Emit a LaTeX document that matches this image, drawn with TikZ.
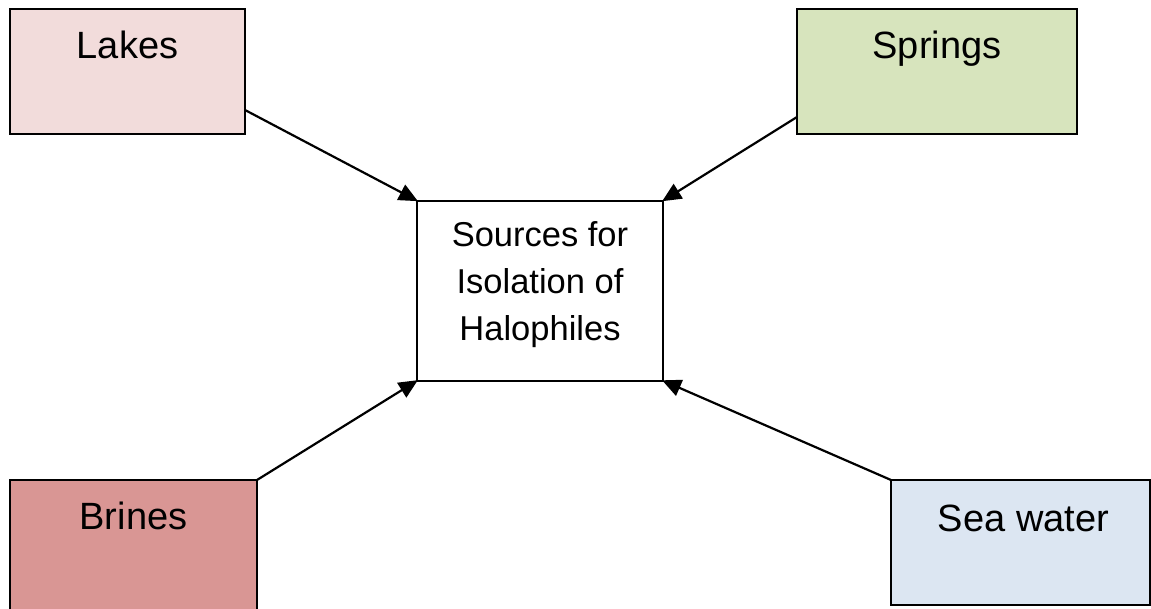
\documentclass[tikz,border=0pt]{standalone}
\usepackage{fontspec}
\setmainfont{Liberation Sans}
\usetikzlibrary{arrows.meta}
\definecolor{lakesfill}{HTML}{F2DCDB}
\definecolor{springsfill}{HTML}{D7E4BD}
\definecolor{brinesfill}{HTML}{D99694}
\definecolor{seafill}{HTML}{DCE6F2}
\begin{document}
\begin{tikzpicture}[x=1pt,y=1pt,
  srcbox/.style={draw=black, line width=2.2pt, rectangle, inner sep=0pt, outer sep=0pt, anchor=north west},
  srclabel/.style={anchor=base, inner sep=0pt, font=\fontsize{38}{46}\selectfont},
  hubbox/.style={draw=black, line width=2.2pt, rectangle, fill=white, inner sep=0pt, outer sep=0pt, anchor=north west,
    minimum width=246pt, minimum height=180pt},
  hublabel/.style={anchor=north, align=center, inner sep=0pt, font=\fontsize{34.5}{47}\selectfont},
  feed/.style={draw=black, line width=2.2pt, -{Triangle[length=19pt,width=17pt]}, shorten >=-1pt}]
\useasboundingbox (0,0) rectangle (1151,608);

% source boxes
\node[srcbox, fill=lakesfill, minimum width=235pt, minimum height=125pt] (lakes) at (10,599) {};
\node[srcbox, fill=springsfill, minimum width=280pt, minimum height=125pt] (springs) at (797,599) {};
\node[srcbox, fill=brinesfill, minimum width=247pt, minimum height=140pt] (brines) at (10,128) {};
\node[srcbox, fill=seafill, minimum width=259pt, minimum height=125pt] (sea) at (891,128) {};

\node[srclabel] (lakesT) at ([yshift=-50pt]lakes.north) {Lakes};
\node[srclabel] (springsT) at ([yshift=-50pt]springs.north) {Springs};
\node[srclabel] (brinesT) at ([yshift=-49pt]brines.north) {Brines};
\node[srclabel] (seaT) at ([xshift=3pt,yshift=-51pt]sea.north) {Sea water};

% central box
\node[hubbox] (hub) at (417,407.3) {};
\node[hublabel] (hubT) at (540,387) {Sources for\\Isolation of\\Halophiles};

% connectors
\draw[feed] ([yshift=24pt]lakes.south east) -- (hub.north west);
\draw[feed] ([yshift=17pt]springs.south west) -- (hub.north east);
\draw[feed] (brines.north east) -- (hub.south west);
\draw[feed] (sea.north west) -- (hub.south east);
\end{tikzpicture}
\end{document}
